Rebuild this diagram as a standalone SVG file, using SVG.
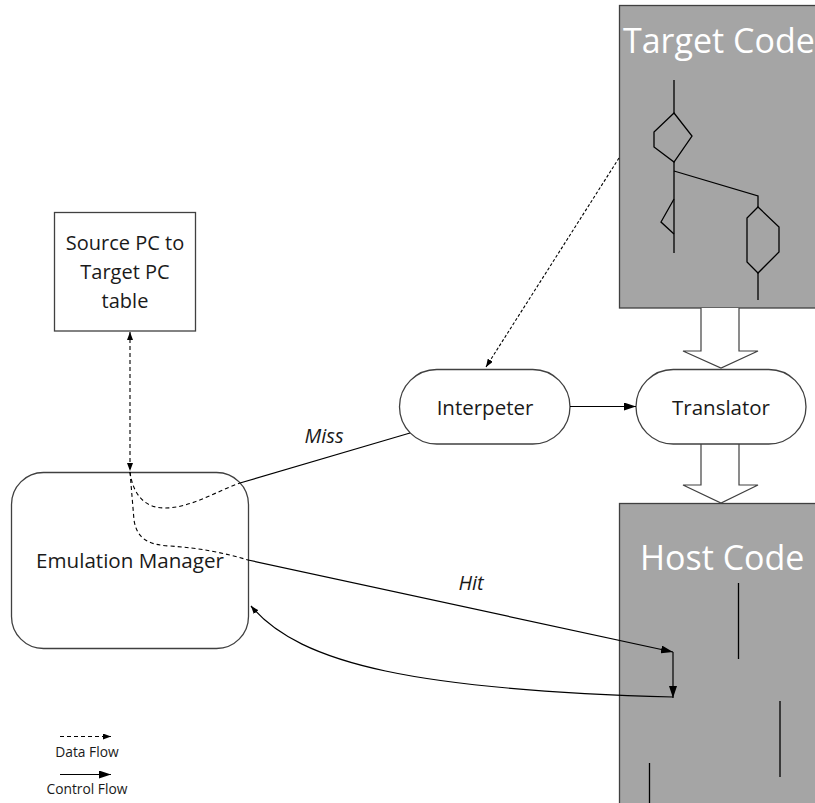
<svg xmlns="http://www.w3.org/2000/svg" width="815" height="803" viewBox="0 0 815 803">
  <defs>
    <style>
      .box { fill: #ffffff; stroke: #404040; stroke-width: 1.3; }
      .code { fill: #a5a5a5; stroke: #404040; stroke-width: 1.3; }
      .label { font-family: "Open Sans", "Liberation Sans", sans-serif; fill: #1a1a1a; text-anchor: middle; }
      .big { font-family: "Open Sans", "Liberation Sans", sans-serif; fill: #ffffff; font-size: 34px; }
      .flow { fill: none; stroke: #000000; stroke-width: 1.2; }
      .ctrl { fill: none; stroke: #000000; stroke-width: 1.2; }
      .data { fill: none; stroke: #000000; stroke-width: 1.1; stroke-dasharray: 4 3; }
      .dot { fill: none; stroke: #000000; stroke-width: 1.1; stroke-dasharray: 3 2; }
      .block { fill: #ffffff; stroke: #404040; stroke-width: 1.2; }
    </style>
    <marker id="head" viewBox="0 0 12 8" refX="12" refY="4" markerWidth="12" markerHeight="8" markerUnits="userSpaceOnUse" orient="auto">
      <path d="M0,0 L12,4 L0,8 Z" fill="#000000"/>
    </marker>
    <marker id="small" viewBox="0 0 8 6" refX="8" refY="3" markerWidth="8" markerHeight="6" markerUnits="userSpaceOnUse" orient="auto">
      <path d="M0,0 L8,3 L0,6 Z" fill="#000000"/>
    </marker>
    <marker id="smallStart" viewBox="0 0 8 6" refX="0" refY="3" markerWidth="8" markerHeight="6" markerUnits="userSpaceOnUse" orient="auto">
      <path d="M8,0 L0,3 L8,6 Z" fill="#000000"/>
    </marker>
  </defs>

  <rect width="815" height="803" fill="#ffffff"/>

  <!-- Target code panel with its control-flow sketch -->
  <g id="target-code">
    <rect class="code" x="619.5" y="5.5" width="205" height="302.5"/>
    <text class="big" x="623" y="53">Target Code</text>
    <g fill="none" stroke="#000000" stroke-width="1.3">
      <line x1="674" y1="80" x2="674" y2="113"/>
      <polygon points="674,113 692,136 674,162 654,147 654,132"/>
      <line x1="674" y1="162" x2="674" y2="253"/>
      <polyline points="674,171 758,196 758,207"/>
      <polygon points="758,207 779,227 779,252 758,273 747,262 747,218"/>
      <line x1="758" y1="273" x2="758" y2="300"/>
      <polyline points="674,199 661,222 674,234"/>
    </g>
  </g>

  <!-- Host code panel -->
  <g id="host-code">
    <rect class="code" x="619.5" y="503.5" width="205" height="310"/>
    <text class="big" x="640" y="570">Host Code</text>
    <g stroke="#000000" stroke-width="1.3">
      <line x1="738.5" y1="583" x2="738.5" y2="659"/>
      <line x1="780" y1="701" x2="780" y2="777"/>
      <line x1="649.5" y1="763" x2="649.5" y2="803"/>
    </g>
  </g>

  <!-- Translation block arrows -->
  <g id="block-arrows">
    <polyline class="block" points="701,308 701,351 683,351 721,368 758,351 739,351 739,308"/>
    <polyline class="block" points="701,444 701,485 683,485 721,503 758,485 739,485 739,444"/>
  </g>

  <g id="pc-table">
    <rect class="box" x="54.5" y="212.5" width="141" height="118.5"/>
    <text class="label" font-size="20" x="125" y="250">Source PC to</text>
    <text class="label" font-size="20" x="125" y="279">Target PC</text>
    <text class="label" font-size="20" x="125" y="308">table</text>
  </g>

  <g id="emulation-manager">
    <rect class="box" x="11.5" y="472.5" width="237" height="176" rx="32" ry="32"/>
    <text class="label" font-size="20.6" x="130" y="568">Emulation Manager</text>
  </g>

  <g id="interpreter">
    <rect class="box" x="399.5" y="369.5" width="170.5" height="74.5" rx="37.25" ry="37.25"/>
    <text class="label" font-size="20.5" x="485" y="415">Interpeter</text>
  </g>

  <g id="translator">
    <rect class="box" x="636" y="369.5" width="170" height="74.5" rx="37.25" ry="37.25"/>
    <text class="label" font-size="20.5" x="721" y="415">Translator</text>
  </g>

  <g id="connectors">
    <!-- table lookup -->
    <line class="data" x1="130" y1="332" x2="130" y2="471" marker-start="url(#smallStart)" marker-end="url(#small)"/>
    <!-- target code fetch by the interpreter -->
    <line class="dot" x1="619" y1="158" x2="486" y2="367" marker-end="url(#small)"/>
    <!-- miss path -->
    <path class="data" d="M130,472 C133,495 145,508 165,508 C190,508 215,492 240,483"/>
    <line class="flow" x1="240" y1="483" x2="410" y2="433"/>
    <!-- hit path -->
    <path class="data" d="M130,472 L134,520 C137,540 150,545 170,546 C200,548 225,553 248,560"/>
    <line class="flow" x1="248" y1="560" x2="673" y2="652" marker-end="url(#head)"/>
    <line class="flow" x1="673" y1="652" x2="673" y2="698" marker-end="url(#head)"/>
    <!-- return to the emulation manager -->
    <path class="flow" d="M673,697 C420,690 300,665 251,606" marker-end="url(#small)"/>
    <!-- interpreter hands off to translator -->
    <line class="flow" x1="570" y1="406.5" x2="636" y2="406.5" marker-end="url(#head)"/>
  </g>

  <g id="edge-labels">
    <text class="label" font-size="20" font-style="italic" x="324" y="443">Miss</text>
    <text class="label" font-size="20" font-style="italic" x="471" y="590">Hit</text>
  </g>

  <g id="legend">
    <line class="data" x1="60" y1="736.5" x2="111" y2="736.5" marker-end="url(#small)"/>
    <text class="label" font-size="13.8" x="87" y="757">Data Flow</text>
    <line class="flow" x1="60" y1="774.5" x2="111" y2="774.5" marker-end="url(#head)"/>
    <text class="label" font-size="13.8" x="87" y="794">Control Flow</text>
  </g>
</svg>
